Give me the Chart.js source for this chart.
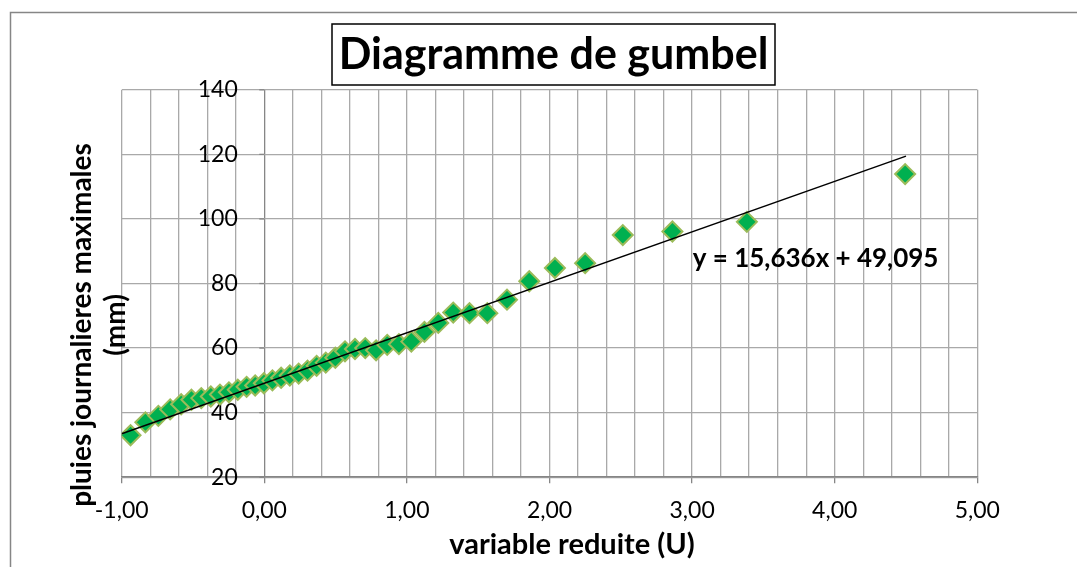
<!DOCTYPE html>
<html>
<head>
<meta charset="utf-8">
<script src="https://cdn.jsdelivr.net/npm/chart.js@4.4.1/dist/chart.umd.min.js"></script>
<style>
	html, body { margin: 0; padding: 0; background: #fff; }
	#wrap { width: 1077px; height: 567px; }
</style>
</head>
<body>
<div id="wrap"><canvas id="chart" width="1077" height="567"></canvas></div>
<script>
/************  DATA  ************/
// reduced variable U (Gumbel), one per observed yearly max
const uValues = [
	-0.938, -0.834, -0.743, -0.660, -0.583, -0.511, -0.442, -0.375, -0.311, -0.248,
	-0.186, -0.124, -0.064, -0.003, 0.057, 0.118, 0.179, 0.241, 0.303, 0.367,
	0.431, 0.498, 0.566, 0.636, 0.708, 0.784, 0.862, 0.944, 1.031, 1.123,
	1.220, 1.325, 1.439, 1.564, 1.702, 1.858, 2.038, 2.250, 2.514, 2.862,
	3.384, 4.494
];
// maximum daily rainfall (mm)
const rainValues = [
	33, 37, 39, 41, 42.6, 44, 44.5, 45, 45.6, 46.3,
	47.1, 48, 48.4, 49.1, 50, 50.8, 51.5, 52.1, 53, 54.5,
	55.5, 57, 59, 59.7, 60, 59.3, 61, 61.2, 62, 65,
	67.8, 71, 70.8, 70.8, 75, 80.7, 84.8, 86.3, 95, 96.1,
	99.1, 113.9
];
// linear trend y = a*x + b
const trendSlope = 15.636;
const trendIntercept = 49.095;
const trendRange = [-1, 4.5];
const trendLabel = 'y = 15,636x + 49,095';

const xMin = -1, xMax = 5, xStep = 0.2;
const yMin = 20, yMax = 140, yStep = 20;

const chartTitle = 'Diagramme de gumbel';
const xTitle = 'variable reduite (U)';
const yTitle = ['pluies journalieres maximales', '(mm)'];

/************  STYLE  ************/
const gridGray = '#a9a9a9';
const axisGray = '#868686';
const fontFamily = 'Lato, "Open Sans", sans-serif';

const isMajor = v => Math.abs(v - Math.round(v)) < 1e-6;
const frNumber = v => v.toFixed(2).replace('.', ',');

// extra texts: title box, axis titles, equation, outer frame
const decorations = {
	id: 'decorations',
	beforeDraw(chart) {
		const c = chart.ctx;
		c.save();
		c.strokeStyle = axisGray;
		c.lineWidth = 1.5;
		c.strokeRect(10.5, 12.5, 1100, 600);
		c.restore();
	},
	afterDraw(chart) {
		const c = chart.ctx;
		const { x, y } = chart.scales;
		c.save();

		// small tick marks on the U = 0 axis, one per y step
		c.strokeStyle = axisGray;
		c.lineWidth = 1.3;
		const x0 = x.getPixelForValue(0);
		for (let v = yMin; v <= yMax; v += yStep) {
			const py = y.getPixelForValue(v);
			c.beginPath();
			c.moveTo(x0 - 5, py);
			c.lineTo(x0, py);
			c.stroke();
		}

		// title in a box
		c.fillStyle = '#fff';
		c.fillRect(332, 24, 443, 61);
		c.strokeStyle = '#000';
		c.lineWidth = 1.5;
		c.strokeRect(332, 24, 443, 61);
		c.fillStyle = '#000';
		c.textAlign = 'center';
		c.textBaseline = 'middle';
		c.font = `bold 43px ${fontFamily}`;
		c.fillText(chartTitle, 553.5, 55);

		// x axis title (sits a bit right of the plot centre)
		c.font = `bold 29px ${fontFamily}`;
		c.fillText(xTitle, 572, 545);

		// y axis title, two lines rotated
		c.save();
		c.translate(82, 325);
		c.rotate(-Math.PI / 2);
		c.font = `bold 28px ${fontFamily}`;
		yTitle.forEach((line, i) => c.fillText(line, 0, i * 34));
		c.restore();

		// trend equation
		c.font = `bold 26px ${fontFamily}`;
		c.fillText(trendLabel, x.getPixelForValue(3.866), y.getPixelForValue(87.6));
		c.restore();
	}
};

const ctx = document.getElementById('chart').getContext('2d');
new Chart(ctx, {
	type: 'scatter',
	data: {
		datasets: [
			{
				label: 'pluies',
				data: uValues.map((u, i) => ({ x: u, y: rainValues[i] })),
				pointStyle: 'rectRot',
				pointRadius: 10,
				pointHoverRadius: 10,
				backgroundColor: '#00b050',
				borderColor: '#9bbb59',
				borderWidth: 2,
				order: 1,
			},
			{
				label: 'tendance',
				type: 'line',
				data: trendRange.map(u => ({ x: u, y: trendSlope * u + trendIntercept })),
				borderColor: '#000',
				borderWidth: 1.5,
				pointRadius: 0,
				fill: false,
				order: 0,
			},
		],
	},
	options: {
		responsive: false,
		animation: false,
		events: [],
		layout: { padding: { top: 85, right: 99.7, left: 0, bottom: 0 } },
		plugins: { legend: { display: false }, tooltip: { enabled: false } },
		scales: {
			x: {
				type: 'linear',
				min: xMin,
				max: xMax,
				afterFit: s => { s.height = 85.3; },
				ticks: {
					stepSize: xStep,
					autoSkip: false,
					maxRotation: 0,
					padding: 14,
					color: '#000',
					font: { family: fontFamily, size: 23 },
					callback: v => (isMajor(v) ? frNumber(v) : ''),
				},
				grid: {
					color: c => (c.tick && Math.abs(c.tick.value) < 1e-6 ? axisGray : gridGray),
					lineWidth: 1.3,
					drawTicks: true,
					tickLength: 6,
					tickColor: c => (c.tick && isMajor(c.tick.value) ? axisGray : 'rgba(0,0,0,0)'),
				},
				border: { color: axisGray, width: 1.5 },
			},
			y: {
				min: yMin,
				max: yMax,
				afterFit: s => { s.width = 121.7; },
				ticks: {
					stepSize: yStep,
					// labels sit left of the U = 0 line, inside the plot
					mirror: true,
					crossAlign: 'far',
					padding: 76,
					color: '#000',
					font: { family: fontFamily, size: 23 },
				},
				grid: { color: gridGray, lineWidth: 1.3, drawTicks: false },
				border: { display: false },
			},
		},
	},
	plugins: [decorations],
});
</script>
</body>
</html>
